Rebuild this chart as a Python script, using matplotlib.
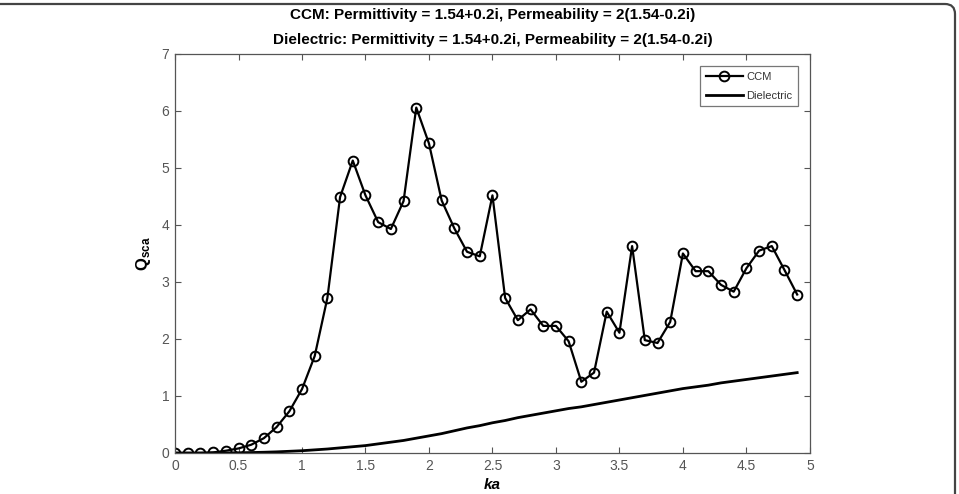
import matplotlib
matplotlib.use("Agg")
import matplotlib.pyplot as plt
from matplotlib.patches import FancyBboxPatch

plt.rcParams["font.family"] = ["Liberation Sans", "DejaVu Sans"]
plt.rcParams["mathtext.fontset"] = "custom"
plt.rcParams["mathtext.rm"] = "Liberation Sans"
plt.rcParams["mathtext.bf"] = "Liberation Sans:bold"
plt.rcParams["mathtext.it"] = "Liberation Sans:italic"

# ka values (0.0 .. 4.9 in steps of 0.1)
ka = [i / 10 for i in range(50)]

ccm = [0.0, 0.0, 0.0, 0.01, 0.04, 0.08, 0.145, 0.26, 0.455, 0.73,
       1.12, 1.70, 2.72, 4.49, 5.13, 4.52, 4.05, 3.93, 4.42, 6.06,
       5.43, 4.43, 3.94, 3.53, 3.45, 4.52, 2.72, 2.33, 2.52, 2.23,
       2.23, 1.96, 1.25, 1.41, 2.48, 2.11, 3.63, 1.98, 1.93, 2.30,
       3.50, 3.19, 3.19, 2.95, 2.83, 3.24, 3.55, 3.63, 3.21, 2.78]

dielectric = [0.0, 0.0, 0.0, 0.001, 0.002, 0.004, 0.008, 0.013, 0.02, 0.03,
              0.04, 0.055, 0.07, 0.09, 0.11, 0.13, 0.16, 0.19, 0.22, 0.26,
              0.30, 0.34, 0.39, 0.44, 0.48, 0.53, 0.57, 0.62, 0.66, 0.70,
              0.74, 0.78, 0.81, 0.85, 0.89, 0.93, 0.97, 1.01, 1.05, 1.09,
              1.13, 1.16, 1.19, 1.23, 1.26, 1.29, 1.32, 1.35, 1.38, 1.41]

fig = plt.figure(figsize=(9.59, 4.94), dpi=100)
ax = fig.add_axes([0.1825, 0.083, 0.662, 0.8077])

ax.plot(ka, ccm, color="black", lw=1.6, marker="o", markersize=7,
        markerfacecolor="none", markeredgewidth=1.4, label="CCM")
ax.plot(ka, dielectric, color="black", lw=2.0, label="Dielectric")

ax.set_xlim(0, 5)
ax.set_ylim(0, 7)
ax.set_xticks([0, 0.5, 1, 1.5, 2, 2.5, 3, 3.5, 4, 4.5, 5])
ax.set_xticklabels(["0", "0.5", "1", "1.5", "2", "2.5", "3", "3.5", "4", "4.5", "5"])
ax.set_yticks(range(8))

for s in ax.spines.values():
    s.set_color("#555555")
    s.set_linewidth(0.9)
ax.tick_params(direction="in", top=True, right=True, length=4, width=0.8,
               color="#555555", labelcolor="#555555", labelsize=10, pad=4)

ax.set_xlabel("ka", fontsize=11, fontweight="bold", fontstyle="italic", labelpad=4)
ax.set_ylabel(r"$\mathbf{Q}_{\mathbf{sca}}$", fontsize=12, labelpad=6)

ax.set_title("CCM: Permittivity = 1.54+0.2i, Permeability = 2(1.54-0.2i)\n"
             "Dielectric: Permittivity = 1.54+0.2i, Permeability = 2(1.54-0.2i)",
             fontsize=11, fontweight="bold", linespacing=2.0, pad=7)

leg = ax.legend(loc="upper right", fontsize=8, frameon=True, fancybox=False,
                edgecolor="#555555", handlelength=3.3, borderaxespad=1.1,
                handletextpad=0.3, labelspacing=0.8, borderpad=0.5)
leg.get_frame().set_linewidth(0.9)
for t in leg.get_texts():
    t.set_color("#333333")

# rounded frame around the figure
frame = FancyBboxPatch((-0.3, -0.3), 9.85, 5.2, boxstyle="round,pad=0,rounding_size=0.1",
                       transform=fig.dpi_scale_trans, fill=False,
                       edgecolor="#444444", linewidth=1.6, clip_on=False)
fig.patches.append(frame)

fig.savefig("out.png", dpi=100)
